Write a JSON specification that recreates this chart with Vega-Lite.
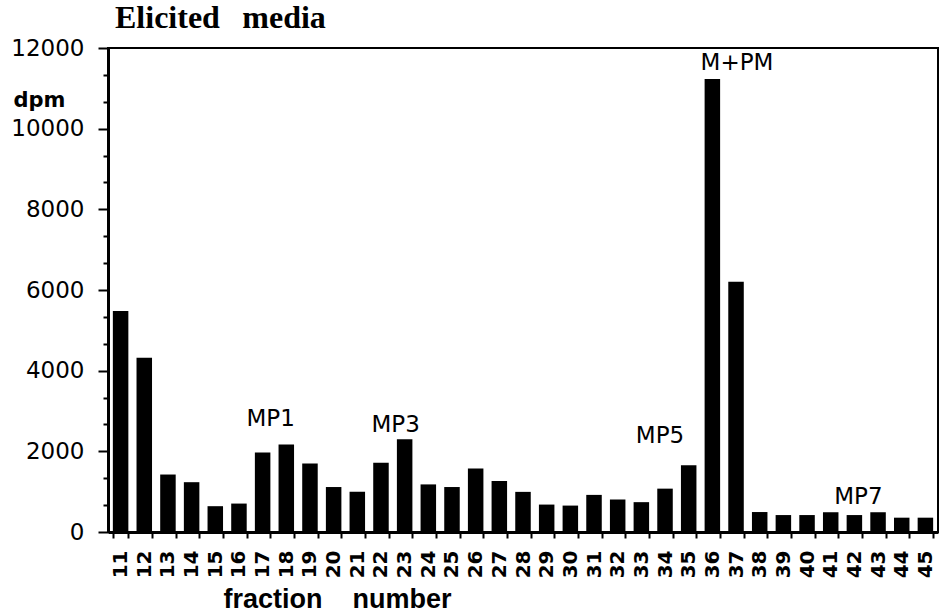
{
  "$schema": "https://vega.github.io/schema/vega-lite/v6.json",
  "autosize": {"type": "none"},
  "padding": {"left": 108, "top": 48, "right": 4, "bottom": 84},
  "width": 830,
  "height": 484,
  "background": "white",
  "config": {
    "view": {"stroke": "black", "strokeWidth": 2},
    "axis": {"domainColor": "black", "tickColor": "black", "labelColor": "black", "titleColor": "black", "grid": false}
  },
  "title": {
    "text": "Elicited\u00a0\u00a0\u2009media",
    "anchor": "start",
    "frame": "group",
    "font": "Liberation Serif",
    "fontSize": 32,
    "fontWeight": "bold",
    "color": "black",
    "baseline": "alphabetic",
    "offset": -23,
    "dx": 7
  },
  "datasets": {
    "bars": [
      {"fraction": 11, "dpm": 5480},
      {"fraction": 12, "dpm": 4320},
      {"fraction": 13, "dpm": 1425},
      {"fraction": 14, "dpm": 1235},
      {"fraction": 15, "dpm": 640},
      {"fraction": 16, "dpm": 705},
      {"fraction": 17, "dpm": 1970},
      {"fraction": 18, "dpm": 2170},
      {"fraction": 19, "dpm": 1700},
      {"fraction": 20, "dpm": 1115},
      {"fraction": 21, "dpm": 995},
      {"fraction": 22, "dpm": 1715},
      {"fraction": 23, "dpm": 2300},
      {"fraction": 24, "dpm": 1180},
      {"fraction": 25, "dpm": 1115},
      {"fraction": 26, "dpm": 1575},
      {"fraction": 27, "dpm": 1265},
      {"fraction": 28, "dpm": 995},
      {"fraction": 29, "dpm": 680},
      {"fraction": 30, "dpm": 655},
      {"fraction": 31, "dpm": 920},
      {"fraction": 32, "dpm": 805},
      {"fraction": 33, "dpm": 740},
      {"fraction": 34, "dpm": 1075},
      {"fraction": 35, "dpm": 1655},
      {"fraction": 36, "dpm": 11230},
      {"fraction": 37, "dpm": 6205},
      {"fraction": 38, "dpm": 495},
      {"fraction": 39, "dpm": 420},
      {"fraction": 40, "dpm": 420},
      {"fraction": 41, "dpm": 490},
      {"fraction": 42, "dpm": 420},
      {"fraction": 43, "dpm": 490},
      {"fraction": 44, "dpm": 355},
      {"fraction": 45, "dpm": 355}
    ],
    "notes": [
      {"label": "MP1", "fraction": 17, "dpm": 2620},
      {"label": "MP3", "fraction": 23, "dpm": 2480},
      {"label": "MP5", "fraction": 34, "dpm": 2195},
      {"label": "M+PM", "fraction": 37, "dpm": 11445},
      {"label": "MP7", "fraction": 42, "dpm": 705}
    ]
  },
  "layer": [
    {
      "data": {"name": "bars"},
      "mark": {"type": "bar", "color": "black"},
      "encoding": {
        "x": {
          "field": "fraction",
          "type": "ordinal",
          "scale": {"paddingInner": 0.345, "paddingOuter": 0.205},
          "axis": {
            "title": "fraction\u00a0\u00a0\u00a0\u00a0number",
            "titleFont": "Liberation Sans",
            "titleFontSize": 27,
            "titleFontWeight": "bold",
            "titleX": 115,
            "titleY": 75,
            "titleAlign": "left",
            "titleAnchor": "start",
            "titleBaseline": "alphabetic",
            "labelAngle": 270,
            "labelFont": "DejaVu Sans",
            "labelFontSize": 20,
            "labelFontWeight": "bold",
            "labelPadding": 12,
            "labelOverlap": false,
            "tickBand": "extent",
            "tickSize": 6,
            "tickWidth": 2,
            "domainWidth": 3
          }
        },
        "y": {
          "field": "dpm",
          "type": "quantitative",
          "scale": {"domain": [0, 12000], "nice": false},
          "axis": {
            "orient": "left",
            "values": [0, 2000, 4000, 6000, 8000, 10000, 12000],
            "format": "d",
            "labelFont": "DejaVu Sans",
            "labelFontSize": 23,
            "labelPadding": 14,
            "tickSize": 10,
            "tickWidth": 2,
            "domainWidth": 3,
            "title": "dpm",
            "titleFont": "DejaVu Sans",
            "titleFontSize": 21,
            "titleFontWeight": "bold",
            "titleAngle": 0,
            "titleX": -95,
            "titleY": 58,
            "titleAlign": "left",
            "titleBaseline": "alphabetic"
          }
        }
      }
    },
    {
      "data": {"name": "notes"},
      "transform": [{"filter": "datum.label === 'MP1'"}],
      "mark": {"type": "text", "font": "DejaVu Sans", "fontSize": 23, "color": "black", "baseline": "alphabetic", "align": "center", "dx": 8},
      "encoding": {
        "x": {"field": "fraction", "type": "ordinal"},
        "y": {
          "field": "dpm",
          "type": "quantitative",
          "axis": {
            "orient": "left",
            "values": [666.67, 1333.33, 2666.67, 3333.33, 4666.67, 5333.33, 6666.67, 7333.33, 8666.67, 9333.33, 10666.67, 11333.33],
            "labels": false,
            "domain": false,
            "tickSize": 5,
            "tickWidth": 2,
            "title": null
          }
        },
        "text": {"field": "label"}
      }
    },
    {
      "data": {"name": "notes"},
      "transform": [{"filter": "datum.label === 'MP3'"}],
      "mark": {"type": "text", "font": "DejaVu Sans", "fontSize": 23, "color": "black", "baseline": "alphabetic", "align": "center", "dx": -9},
      "encoding": {
        "x": {"field": "fraction", "type": "ordinal"},
        "y": {"field": "dpm", "type": "quantitative", "axis": null},
        "text": {"field": "label"}
      }
    },
    {
      "data": {"name": "notes"},
      "transform": [{"filter": "datum.label === 'MP5'"}],
      "mark": {"type": "text", "font": "DejaVu Sans", "fontSize": 23, "color": "black", "baseline": "alphabetic", "align": "center", "dx": -5},
      "encoding": {
        "x": {"field": "fraction", "type": "ordinal"},
        "y": {"field": "dpm", "type": "quantitative", "axis": null},
        "text": {"field": "label"}
      }
    },
    {
      "data": {"name": "notes"},
      "transform": [{"filter": "datum.label === 'M+PM'"}],
      "mark": {"type": "text", "font": "DejaVu Sans", "fontSize": 23, "color": "black", "baseline": "alphabetic", "align": "center", "dx": 1},
      "encoding": {
        "x": {"field": "fraction", "type": "ordinal"},
        "y": {"field": "dpm", "type": "quantitative", "axis": null},
        "text": {"field": "label"}
      }
    },
    {
      "data": {"name": "notes"},
      "transform": [{"filter": "datum.label === 'MP7'"}],
      "mark": {"type": "text", "font": "DejaVu Sans", "fontSize": 23, "color": "black", "baseline": "alphabetic", "align": "center", "dx": 4},
      "encoding": {
        "x": {"field": "fraction", "type": "ordinal"},
        "y": {"field": "dpm", "type": "quantitative", "axis": null},
        "text": {"field": "label"}
      }
    }
  ],
  "resolve": {"axis": {"y": "independent"}}
}
